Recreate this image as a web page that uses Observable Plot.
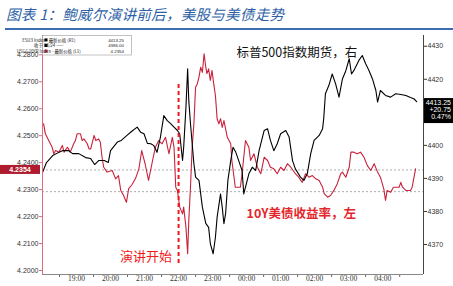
<!DOCTYPE html>
<html><head><meta charset="utf-8">
<script src="https://cdn.jsdelivr.net/npm/d3@7"></script>
<script src="https://cdn.jsdelivr.net/npm/@observablehq/plot@0.6"></script>
<style>
body{margin:0;width:453px;height:286px;overflow:hidden;background:#fff;position:relative;font-family:"Noto Sans CJK SC",sans-serif;}
#title{position:absolute;left:6px;top:3px;font-size:14.5px;font-style:italic;color:#2e5fa6;white-space:nowrap;letter-spacing:0.3px;}
#rule{position:absolute;left:5px;right:0;top:28px;height:2px;background:#3b6db3;}
#chart{position:absolute;left:0;top:32px;}
</style></head><body>
<div id="title">图表 1：鲍威尔演讲前后，美股与美债走势</div>
<div id="rule"></div>
<div id="chart"></div>
<script>
// ---- data (minutes after 18:00) ----
const spxMinutes = [0,7,18,28,35,46,53,64,76,85,92,99,109,116,120,132,139,149,157,167,173,179,185,191,196,202,208,214,220,226,232,238,242,247,249,253,256,258,261,267,270,276,282,288,293,296,301,305,308,314,317,320,323,327,332,336,341,346,352,355,364,370,376,382,391,397,402,408,414,420,429,435,441,446,455,461,467,473,479,488,494,496,499,505,511,517,523,529,535,541,545,549,558,564,570,576,582,588,591,596,605,614,623,632,641,649,655,660];
const spxValues = [4391.8,4394.8,4396.9,4397.8,4398.4,4398.4,4397.5,4397.5,4396.3,4396.0,4394.2,4395.4,4395.4,4394.8,4398.4,4401.0,4401.5,4403.0,4404.2,4405.5,4404.0,4403.5,4400.6,4400.5,4400.0,4397.9,4402.5,4409.0,4407.5,4406.6,4405.5,4404.5,4403.5,4395.4,4399.4,4411.5,4423.2,4413.6,4406.6,4394.5,4390.4,4389.4,4381.3,4376.4,4375.2,4370.3,4367.2,4372.2,4378.3,4385.3,4381.3,4376.3,4379.4,4389.4,4395.4,4399.4,4397.9,4395.4,4392.4,4385.3,4391.4,4393.4,4392.4,4398.4,4404.5,4405.0,4401.5,4398.4,4400.5,4403.5,4404.5,4402.5,4395.4,4392.9,4390.4,4389.4,4391.4,4397.4,4401.5,4403.0,4405.0,4408.1,4415.6,4418.1,4421.6,4418.6,4414.6,4420.1,4422.6,4426.2,4421.6,4422.6,4425.7,4427.2,4424.7,4422.6,4420.1,4416.6,4413.1,4416.6,4415.1,4414.6,4415.6,4415.4,4415.1,4414.5,4414.1,4413.25];
const ustMinutes = [0,2,5,11,17,20,23,29,35,38,44,49,55,58,61,67,70,73,79,82,85,91,94,99,102,105,108,114,123,129,134,138,143,148,152,158,164,170,175,178,181,187,193,199,205,211,217,223,229,232,235,238,242,247,249,253,256,258,261,264,267,270,273,276,279,282,285,288,290,293,296,299,302,305,308,311,314,317,320,326,332,334,337,340,345,349,352,358,364,367,373,379,385,391,397,402,408,414,420,426,432,438,446,452,458,464,470,476,482,488,494,497,503,508,514,520,526,529,535,541,544,549,555,561,567,573,579,585,591,596,602,605,608,614,619,629,632,635,641,649,652,658];
const ustValues = [4.2544,4.2544,4.2507,4.2482,4.2457,4.2433,4.2445,4.2439,4.2464,4.2439,4.2457,4.2439,4.2470,4.2482,4.2507,4.2507,4.2482,4.2488,4.2470,4.2451,4.2451,4.2501,4.2482,4.2488,4.2476,4.2420,4.2383,4.2365,4.2371,4.2340,4.2352,4.2297,4.2278,4.2253,4.2304,4.2319,4.2341,4.2377,4.2445,4.2420,4.2396,4.2334,4.2396,4.2457,4.2482,4.2470,4.2494,4.2433,4.2494,4.2457,4.2309,4.2297,4.2235,4.2210,4.2235,4.2161,4.2062,4.2185,4.2309,4.2457,4.2544,4.2680,4.2692,4.2717,4.2754,4.2735,4.2804,4.2754,4.2730,4.2748,4.2705,4.2742,4.2692,4.2649,4.2563,4.2544,4.2563,4.2531,4.2556,4.2494,4.2470,4.2408,4.2359,4.2309,4.2309,4.2309,4.2359,4.2482,4.2457,4.2408,4.2433,4.2383,4.2359,4.2420,4.2408,4.2383,4.2377,4.2359,4.2383,4.2371,4.2396,4.2383,4.2359,4.2346,4.2327,4.2359,4.2346,4.2352,4.2340,4.2334,4.2309,4.2284,4.2272,4.2278,4.2297,4.2322,4.2359,4.2365,4.2346,4.2383,4.2439,4.2439,4.2433,4.2439,4.2420,4.2389,4.2371,4.2396,4.2365,4.2346,4.2303,4.2260,4.2297,4.2290,4.2309,4.2309,4.2327,4.2309,4.2297,4.2297,4.2309,4.2377];

const hourTicks = [60,120,180,240,300,360,420,480,540,600];
const hourLabels = ["19:00","20:00","21:00","22:00","23:00","00:00","01:00","02:00","03:00","04:00"];
const halfTicks = [30,90,150,210,270,330,390,450,510,570,630];
const leftTicks = [4.20,4.21,4.22,4.23,4.24,4.25,4.26,4.27,4.28];
const rightTicks = [4370,4380,4390,4400,4410,4420,4430];
const rightHiddenLabel = 4410; // covered by the last-value box

const legendNames = ["ESU3 Index - 最新价格 (R1)","收于 08/24 ——","USGG10YR Index - 最新价格 (L1)"];
const legendValues = ["4413.25","4386.00","4.2354"];
const legendColors = ["#000","#000","#c8213a"];

const lastSpxLines = ["4413.25","+20.75","0.47%"];
const lastSpx = 4413.25;
const lastUstText = "4.2354";
const closeSpx = 4386.00;     // 收于 08/24
const refUst = 4.2373;        // upper dashed guide
const speechMinute = 240;     // 22:00
const speechSpan = [4.2026, 4.2690];

const annoBlack = [{t:"标普500指数期货，右", x:342, y:4.2806}];
const annoRedBold = [{t:"10Y美债收益率，左", x:360, y:4.2208}];
const annoRed = [{t:"演讲开始", x:182.6, y:4.2052}];

// ---- scale alignment of right axis onto left axis ----
const L0 = 4.19852, L1 = 4.28716;
const toLeft = v => 4.20964 + (v - 4370) * 0.0012258;
const fromLeft = l => 4370 + (l - 4.20964) / 0.0012258;

const spx = spxMinutes.map((m,i)=>({m, v: spxValues[i]}));
const ust = ustMinutes.map((m,i)=>({m, v: ustValues[i]}));

const chart = Plot.plot({
  width: 453, height: 254,
  marginLeft: 42, marginRight: 30, marginTop: 3, marginBottom: 12,
  x: {domain: [0, 672], label: null},
  y: {domain: [L0, L1], label: null},
  style: {fontFamily: "'Liberation Sans Narrow','Arial Narrow',sans-serif", fontSize: "7px", color: "#333", background: "transparent", overflow: "visible"},
  marks: [
    Plot.ruleY([refUst], {stroke: "#999", strokeWidth: 0.8, strokeDasharray: "2,2"}),
    Plot.ruleY([toLeft(closeSpx)], {stroke: "#999", strokeWidth: 0.8, strokeDasharray: "2,2"}),
    Plot.line(ust, {x: "m", y: "v", stroke: "#c8213a", strokeWidth: 1.1}),
    Plot.line(spx, {x: "m", y: d => toLeft(d.v), stroke: "#000", strokeWidth: 1.1}),
    Plot.ruleX([speechMinute], {y1: speechSpan[0], y2: speechSpan[1], stroke: "#f01818", strokeWidth: 2, strokeDasharray: "4,3"}),
    Plot.axisY({anchor: "left", ticks: leftTicks, tickFormat: d => d.toFixed(4), tickSize: 3, tickPadding: 1, stroke: "#e06b80"}),
    Plot.axisY({anchor: "right", ticks: rightTicks.map(toLeft), tickFormat: d => { const r = Math.round(fromLeft(d)); return r === rightHiddenLabel ? "" : String(r); }, tickSize: 3, tickPadding: 1}),
    Plot.axisX({ticks: hourTicks, tickFormat: d => hourLabels[hourTicks.indexOf(d)], tickSize: 0, tickPadding: 1, fontFamily: "'Liberation Serif',serif", fontSize: 7.5}),
    Plot.axisX({ticks: halfTicks, tickFormat: () => "", tickSize: 3, stroke: "#666"}),
    Plot.ruleX([0], {stroke: "#e06b80", strokeWidth: 1}),
    Plot.ruleX([672], {stroke: "#444", strokeWidth: 1}),
    Plot.ruleY([L0], {stroke: "#888", strokeWidth: 1}),
    Plot.text(annoBlack, {x: "x", y: "y", text: "t", textAnchor: "start", fontSize: 12.5, fill: "#111", fontFamily: "'Noto Sans CJK SC',sans-serif"}),
    Plot.text(annoRedBold, {x: "x", y: "y", text: "t", textAnchor: "start", fontSize: 12.5, fontWeight: "bold", fill: "#e3262b", fontFamily: "'Noto Sans CJK SC',sans-serif"}),
    Plot.text(annoRed, {x: "x", y: "y", text: "t", textAnchor: "middle", fontSize: 13, fill: "#f01818", fontFamily: "'Noto Sans CJK SC',sans-serif"})
  ]
});
document.getElementById("chart").appendChild(chart);

// ---- overlays: legend and last-value labels ----
const svg = d3.select(chart);
const ys = v => chart.scale("y").apply(v);

const lg = svg.append("g");
lg.append("rect").attr("x", 42.5).attr("y", 3.5).attr("width", 89).attr("height", 19.5)
  .attr("fill", "#fff").attr("stroke", "#999").attr("stroke-width", 0.6);
legendNames.forEach((n, i) => {
  const by = 9.6 + i * 5.6;
  lg.append("rect").attr("x", 44.5).attr("y", by - 3.2).attr("width", 3).attr("height", 3).attr("fill", legendColors[i]);
  lg.append("text").attr("x", 48.8).attr("y", by).attr("font-size", 4.4).attr("fill", "#222")
    .attr("font-family", "'Noto Sans CJK SC',sans-serif").text(n);
  lg.append("text").attr("x", 124).attr("y", by).attr("font-size", 4.4).attr("fill", "#222").attr("text-anchor", "end")
    .attr("font-family", "'Liberation Sans Narrow',sans-serif").text(legendValues[i]);
});

const yb = ys(toLeft(lastSpx));
svg.append("rect").attr("x", 424).attr("y", yb - 3).attr("width", 29).attr("height", 25).attr("fill", "#000");
lastSpxLines.forEach((t, i) => {
  svg.append("text").attr("x", 451).attr("y", yb + 4.3 + i * 7).attr("text-anchor", "end")
    .attr("font-size", 7).attr("fill", "#fff").attr("font-family", "'Liberation Sans Narrow',sans-serif").text(t);
});

const yr = ys(refUst);
svg.append("rect").attr("x", 0).attr("y", yr - 4.5).attr("width", 40).attr("height", 9).attr("fill", "#b01c2e");
svg.append("text").attr("x", 20).attr("y", yr + 2.4).attr("text-anchor", "middle").attr("font-size", 7)
  .attr("font-weight", "bold").attr("fill", "#fff").attr("font-family", "'Liberation Sans Narrow',sans-serif").text(lastUstText);
</script>
</body></html>
